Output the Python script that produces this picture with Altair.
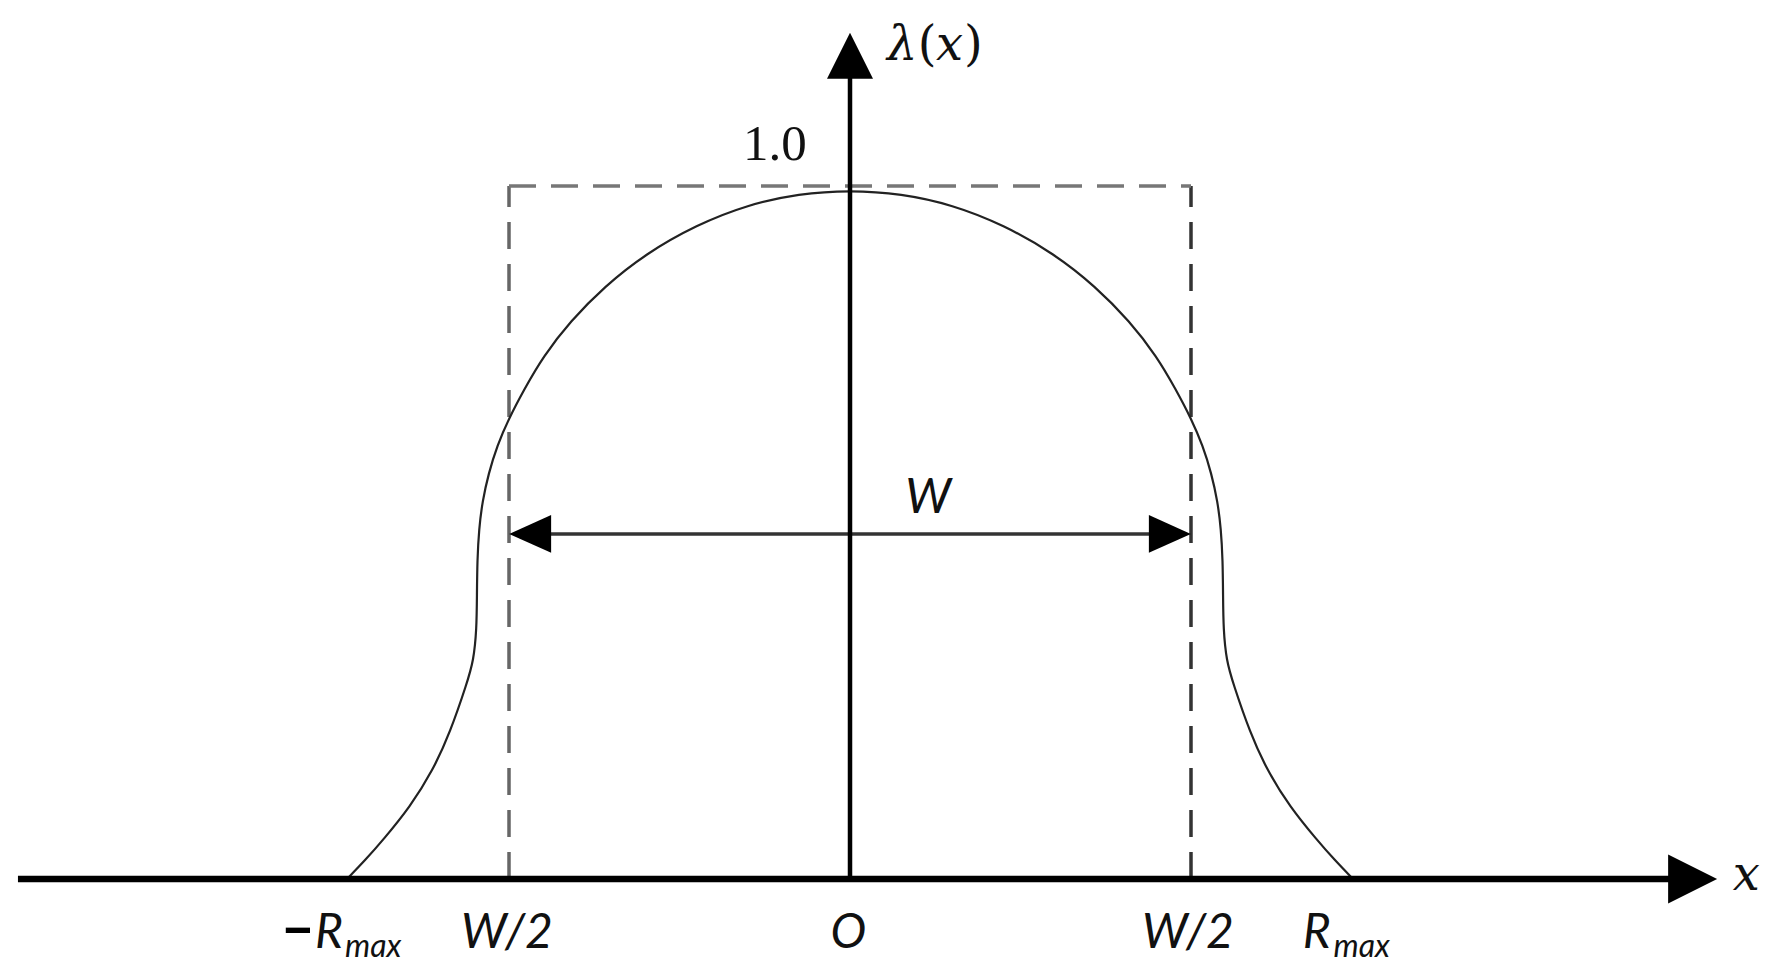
import altair as alt
import pandas as pd

# ---- data (units: x in W/2, y in lambda) ----
curve_x = [-1.475, -1.420, -1.370, -1.290, -1.223, -1.173, -1.123, -1.104, -1.095, -1.094,
           -1.093, -1.088, -1.078, -1.060, -1.035, -1.000, -0.955, -0.900, -0.820, -0.720,
           -0.600, -0.450, -0.300, -0.150, 0.000,
           0.150, 0.300, 0.450, 0.600, 0.720, 0.820, 0.900, 0.955, 1.000, 1.035,
           1.060, 1.078, 1.088, 1.093, 1.094, 1.095, 1.104, 1.123, 1.173, 1.223,
           1.290, 1.370, 1.420, 1.475]
curve_y = [0.000, 0.028, 0.056, 0.104, 0.157, 0.211, 0.283, 0.315, 0.360, 0.410,
           0.460, 0.505, 0.545, 0.585, 0.625, 0.665, 0.707, 0.754, 0.805, 0.855,
           0.902, 0.944, 0.973, 0.989, 0.994,
           0.989, 0.973, 0.944, 0.902, 0.855, 0.805, 0.754, 0.707, 0.665, 0.625,
           0.585, 0.545, 0.505, 0.460, 0.410, 0.360, 0.315, 0.283, 0.211, 0.157,
           0.104, 0.056, 0.028, 0.000]

x_axis_ends = [-2.44, 2.428]
y_axis_ends = [0.0, 1.17]
x_arrow_at = [2.471]
y_arrow_at = [1.188]
box_half_width = 1.0
box_height = 1.0
w_arrow_y = 0.498
w_head_x = [-0.938, 0.938]

sans_text = ["R", "W/2", "O", "W/2", "R", "W"]
sans_x = [-1.569, -1.006, -0.005, 0.991, 1.328, 0.229]
sans_y = [-0.0996, -0.0996, -0.0996, -0.0996, -0.0996, 0.528]
sans_align = ["left", "center", "center", "center", "left", "center"]

sub_text = ["max", "max"]
sub_x = [-1.481, 1.418]
sub_y = [-0.1126, -0.1126]

minus_x = [-1.619]
minus_y = [-0.0996]

serif_it_text = ["λ", "x", "x"]
serif_it_x = [0.1085, 0.252, 2.589]
serif_it_y = [1.1818, 1.1818, -0.0159]

paren_text = ["(", ")"]
paren_x = [0.199, 0.334]
paren_y = [1.1818, 1.1818]

one_text = ["1.0"]
one_x = [-0.314]
one_y = [1.0375]

# ---- scales: plot area fills the page ----
XS = alt.Scale(domain=[(8 - 850) / 341, (1770 - 850) / 341], nice=False, zero=False)
YS = alt.Scale(domain=[(879 - 970) / 693, (879 - 8) / 693], nice=False, zero=False)


def X(f="x"):
    return alt.X(f"{f}:Q", scale=XS, axis=None)


def Y(f="y"):
    return alt.Y(f"{f}:Q", scale=YS, axis=None)


curve_df = pd.DataFrame({"x": curve_x, "y": curve_y, "i": range(len(curve_x))})
curve = alt.Chart(curve_df).mark_line(
    color="#222222", strokeWidth=2.2, interpolate="basis"
).encode(x=X(), y=Y(), order="i:Q")

# axes
xaxis = alt.Chart(pd.DataFrame({"x": [x_axis_ends[0]], "x2": [x_axis_ends[1]], "y": [0.0]})).mark_rule(
    color="black", strokeWidth=6.5
).encode(x=X(), x2="x2:Q", y=Y())
yaxis = alt.Chart(pd.DataFrame({"x": [0.0], "y": [y_axis_ends[0]], "y2": [y_axis_ends[1]]})).mark_rule(
    color="black", strokeWidth=4.5
).encode(x=X(), y=Y(), y2="y2:Q")

xhead = alt.Chart(pd.DataFrame({"x": x_arrow_at, "y": [0.0]})).mark_point(
    shape="M-1,-1L1,0L-1,1Z", size=2401, filled=True, color="black", opacity=1
).encode(x=X(), y=Y())
yhead = alt.Chart(pd.DataFrame({"x": [0.0], "y": y_arrow_at})).mark_point(
    shape="M-1,1L0,-1L1,1Z", size=2116, filled=True, color="black", opacity=1
).encode(x=X(), y=Y())

# dashed box
dash = [27, 15]
box_left = alt.Chart(pd.DataFrame({"x": [-box_half_width], "y": [0.0], "y2": [box_height]})).mark_rule(
    color="#666666", strokeWidth=3.5, strokeDash=dash
).encode(x=X(), y=Y(), y2="y2:Q")
box_right = alt.Chart(pd.DataFrame({"x": [box_half_width], "y": [0.0], "y2": [box_height]})).mark_rule(
    color="#333333", strokeWidth=3.5, strokeDash=dash
).encode(x=X(), y=Y(), y2="y2:Q")
box_top = alt.Chart(pd.DataFrame({"x": [-box_half_width], "x2": [box_half_width], "y": [box_height]})).mark_rule(
    color="#777777", strokeWidth=3.5, strokeDash=dash
).encode(x=X(), x2="x2:Q", y=Y())

# W arrow
w_line = alt.Chart(pd.DataFrame({"x": [-0.97], "x2": [0.97], "y": [w_arrow_y]})).mark_rule(
    color="#333333", strokeWidth=3.5
).encode(x=X(), x2="x2:Q", y=Y())
w_left = alt.Chart(pd.DataFrame({"x": [w_head_x[0]], "y": [w_arrow_y]})).mark_point(
    shape="M1,-0.9L-1,0L1,0.9Z", size=1764, filled=True, color="black", opacity=1
).encode(x=X(), y=Y())
w_right = alt.Chart(pd.DataFrame({"x": [w_head_x[1]], "y": [w_arrow_y]})).mark_point(
    shape="M-1,-0.9L1,0L-1,0.9Z", size=1764, filled=True, color="black", opacity=1
).encode(x=X(), y=Y())

# texts
sans_df = pd.DataFrame({"t": sans_text, "x": sans_x, "y": sans_y, "a": sans_align})
sans_left = alt.Chart(sans_df[sans_df.a == "left"]).mark_text(
    font="Lato", fontStyle="italic", fontSize=48, align="left", baseline="alphabetic", color="#111111"
).encode(x=X(), y=Y(), text="t:N")
sans_center = alt.Chart(sans_df[sans_df.a == "center"]).mark_text(
    font="Lato", fontStyle="italic", fontSize=48, align="center", baseline="alphabetic", color="#111111"
).encode(x=X(), y=Y(), text="t:N")
subs = alt.Chart(pd.DataFrame({"t": sub_text, "x": sub_x, "y": sub_y})).mark_text(
    font="Lato", fontStyle="italic", fontSize=32, align="left", baseline="alphabetic", color="#111111"
).encode(x=X(), y=Y(), text="t:N")
minus = alt.Chart(pd.DataFrame({"t": ["−"], "x": minus_x, "y": minus_y})).mark_text(
    font="Lato", fontWeight=900, fontSize=54, align="center", baseline="alphabetic", color="black"
).encode(x=X(), y=Y(), text="t:N")
serif_it = alt.Chart(pd.DataFrame({"t": serif_it_text, "x": serif_it_x, "y": serif_it_y})).mark_text(
    font="DejaVu Serif", fontStyle="italic", fontSize=48, align="left", baseline="alphabetic", color="#111111"
).encode(x=X(), y=Y(), text="t:N")
parens = alt.Chart(pd.DataFrame({"t": paren_text, "x": paren_x, "y": paren_y})).mark_text(
    font="DejaVu Serif", fontSize=48, align="left", baseline="alphabetic", color="#111111"
).encode(x=X(), y=Y(), text="t:N")
one = alt.Chart(pd.DataFrame({"t": one_text, "x": one_x, "y": one_y})).mark_text(
    font="Liberation Serif", fontSize=51, align="left", baseline="alphabetic", color="#111111"
).encode(x=X(), y=Y(), text="t:N")

chart = alt.layer(
    box_left, box_right, box_top, curve, w_line, w_left, w_right,
    xaxis, yaxis, xhead, yhead,
    sans_left, sans_center, subs, minus, serif_it, parens, one,
).properties(
    width=1762, height=962, padding=0, autosize=alt.AutoSizeParams(type="none"),
    background="white",
).configure_view(stroke=None)

chart.save("out.html", embed_options={"renderer": "svg", "actions": False})
